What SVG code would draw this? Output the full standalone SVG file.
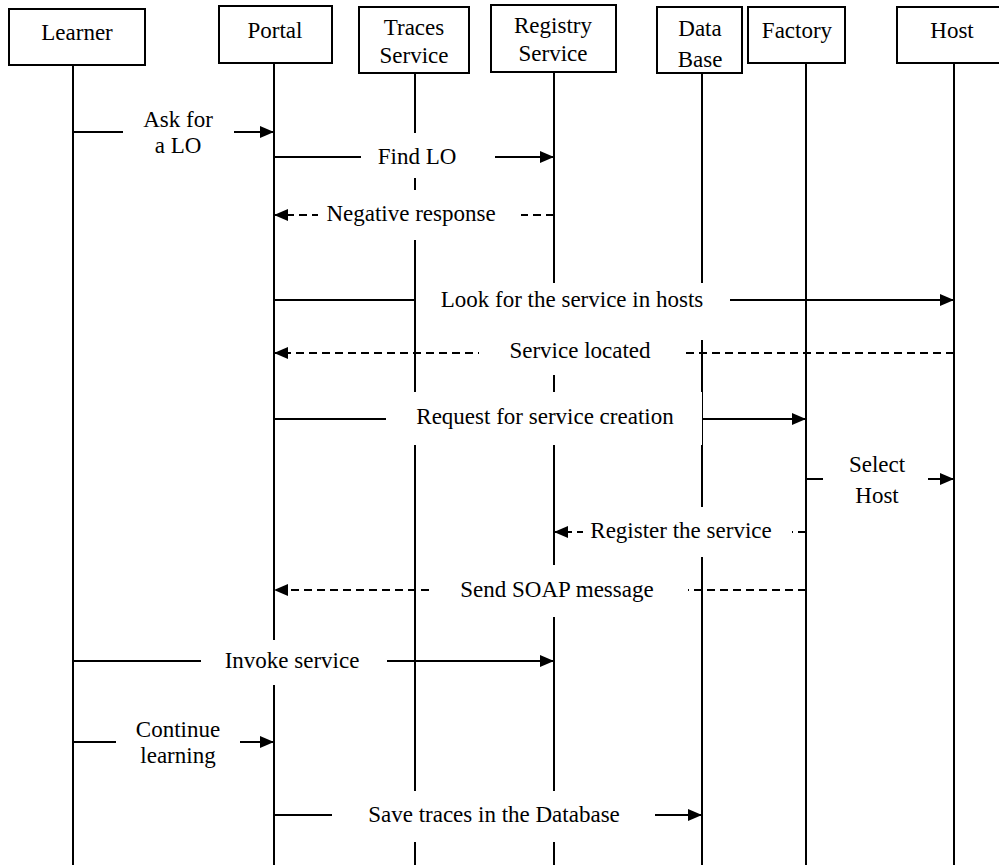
<svg xmlns="http://www.w3.org/2000/svg" width="999" height="865" viewBox="0 0 999 865" font-family="'Liberation Serif', 'Times New Roman', Tinos, 'DejaVu Serif', serif" font-size="23">
<style>
.box{fill:#fff;stroke:#000;stroke-width:2}
.life{stroke:#000;stroke-width:2}
.msg{stroke:#000;stroke-width:2;fill:none}
.dash{stroke-dasharray:8 5}
.pad{fill:#fff;stroke:none}
text{font-family:'Liberation Serif','Times New Roman',Tinos,'DejaVu Serif',serif;font-size:23px;fill:#000;text-anchor:middle}
</style>
<defs>
<marker id="head" markerUnits="userSpaceOnUse" markerWidth="14" markerHeight="12" refX="14" refY="6" orient="auto">
<path d="M0,0 L14,6 L0,12 z" fill="#000"/>
</marker>
</defs>
<rect width="999" height="865" fill="#fff"/>

<!-- participants with their lifelines -->
<g id="learner">
<line class="life" x1="73" y1="65" x2="73" y2="865"/>
<rect class="box" x="9" y="9" width="136" height="56"/>
<text x="77" y="40">Learner</text>
</g>
<g id="portal">
<line class="life" x1="274" y1="63" x2="274" y2="865"/>
<rect class="box" x="219" y="6" width="113" height="57"/>
<text x="275" y="38">Portal</text>
</g>
<g id="traces-service">
<line class="life" x1="415" y1="73" x2="415" y2="865"/>
<rect class="box" x="359" y="7" width="110" height="66"/>
<text x="414" y="35">Traces</text>
<text x="414" y="63">Service</text>
</g>
<g id="registry-service">
<line class="life" x1="554" y1="72" x2="554" y2="865"/>
<rect class="box" x="491" y="5" width="125" height="67"/>
<text x="553" y="33">Registry</text>
<text x="553" y="61">Service</text>
</g>
<g id="database">
<line class="life" x1="702" y1="73" x2="702" y2="865"/>
<rect class="box" x="657" y="7" width="85" height="66"/>
<text x="700" y="36">Data</text>
<text x="700" y="67">Base</text>
</g>
<g id="factory">
<line class="life" x1="806" y1="63" x2="806" y2="865"/>
<rect class="box" x="748" y="7" width="97" height="56"/>
<text x="797" y="38">Factory</text>
</g>
<g id="host">
<line class="life" x1="954" y1="63" x2="954" y2="865"/>
<rect class="box" x="897" y="7" width="104" height="56"/>
<text x="952" y="38">Host</text>
</g>

<!-- messages: line, then a white pad under the label -->
<g id="connectors">
<g id="m-ask">
<line class="msg" x1="73" y1="132" x2="274" y2="132" marker-end="url(#head)"/>
<rect class="pad" x="123" y="108" width="111" height="57"/>
<text x="178" y="127">Ask for</text>
<text x="178" y="153">a LO</text>
</g>
<g id="m-find">
<line class="msg" x1="274" y1="157" x2="554" y2="157" marker-end="url(#head)"/>
<rect class="pad" x="361" y="133" width="134" height="45"/>
<text x="417" y="164">Find LO</text>
</g>
<g id="m-negative">
<line class="msg dash" x1="554" y1="215" x2="274" y2="215" marker-end="url(#head)"/>
<rect class="pad" x="318" y="190" width="203" height="50"/>
<text x="411" y="221">Negative response</text>
</g>
<g id="m-look">
<line class="msg" x1="274" y1="300" x2="954" y2="300" marker-end="url(#head)"/>
<rect class="pad" x="416" y="283" width="314" height="57"/>
<text x="572" y="307">Look for the service in hosts</text>
</g>
<g id="m-located">
<line class="msg dash" x1="954" y1="353" x2="274" y2="353" marker-end="url(#head)"/>
<rect class="pad" x="479" y="340" width="204" height="35"/>
<text x="580" y="358">Service located</text>
</g>
<g id="m-request">
<line class="msg" x1="274" y1="419" x2="806" y2="419" marker-end="url(#head)"/>
<rect class="pad" x="386" y="392" width="316" height="53"/>
<text x="545" y="424">Request for service creation</text>
</g>
<g id="m-select">
<line class="msg" x1="806" y1="479" x2="954" y2="479" marker-end="url(#head)"/>
<rect class="pad" x="823" y="452" width="105" height="58"/>
<text x="877" y="472">Select</text>
<text x="877" y="503">Host</text>
</g>
<g id="m-register">
<line class="msg dash" x1="806" y1="532" x2="554" y2="532" marker-end="url(#head)"/>
<rect class="pad" x="583" y="507" width="209" height="50"/>
<text x="681" y="538">Register the service</text>
</g>
<g id="m-soap">
<line class="msg dash" x1="806" y1="590" x2="274" y2="590" marker-end="url(#head)"/>
<rect class="pad" x="432" y="565" width="256" height="52"/>
<text x="557" y="597">Send SOAP message</text>
</g>
<g id="m-invoke">
<line class="msg" x1="73" y1="661" x2="554" y2="661" marker-end="url(#head)"/>
<rect class="pad" x="201" y="640" width="186" height="45"/>
<text x="292" y="668">Invoke service</text>
</g>
<g id="m-continue">
<line class="msg" x1="73" y1="742" x2="274" y2="742" marker-end="url(#head)"/>
<rect class="pad" x="116" y="715" width="124" height="55"/>
<text x="178" y="737">Continue</text>
<text x="178" y="763">learning</text>
</g>
<g id="m-save">
<line class="msg" x1="274" y1="815" x2="702" y2="815" marker-end="url(#head)"/>
<rect class="pad" x="332" y="791" width="323" height="51"/>
<text x="494" y="822">Save traces in the Database</text>
</g>
</g>
</svg>
